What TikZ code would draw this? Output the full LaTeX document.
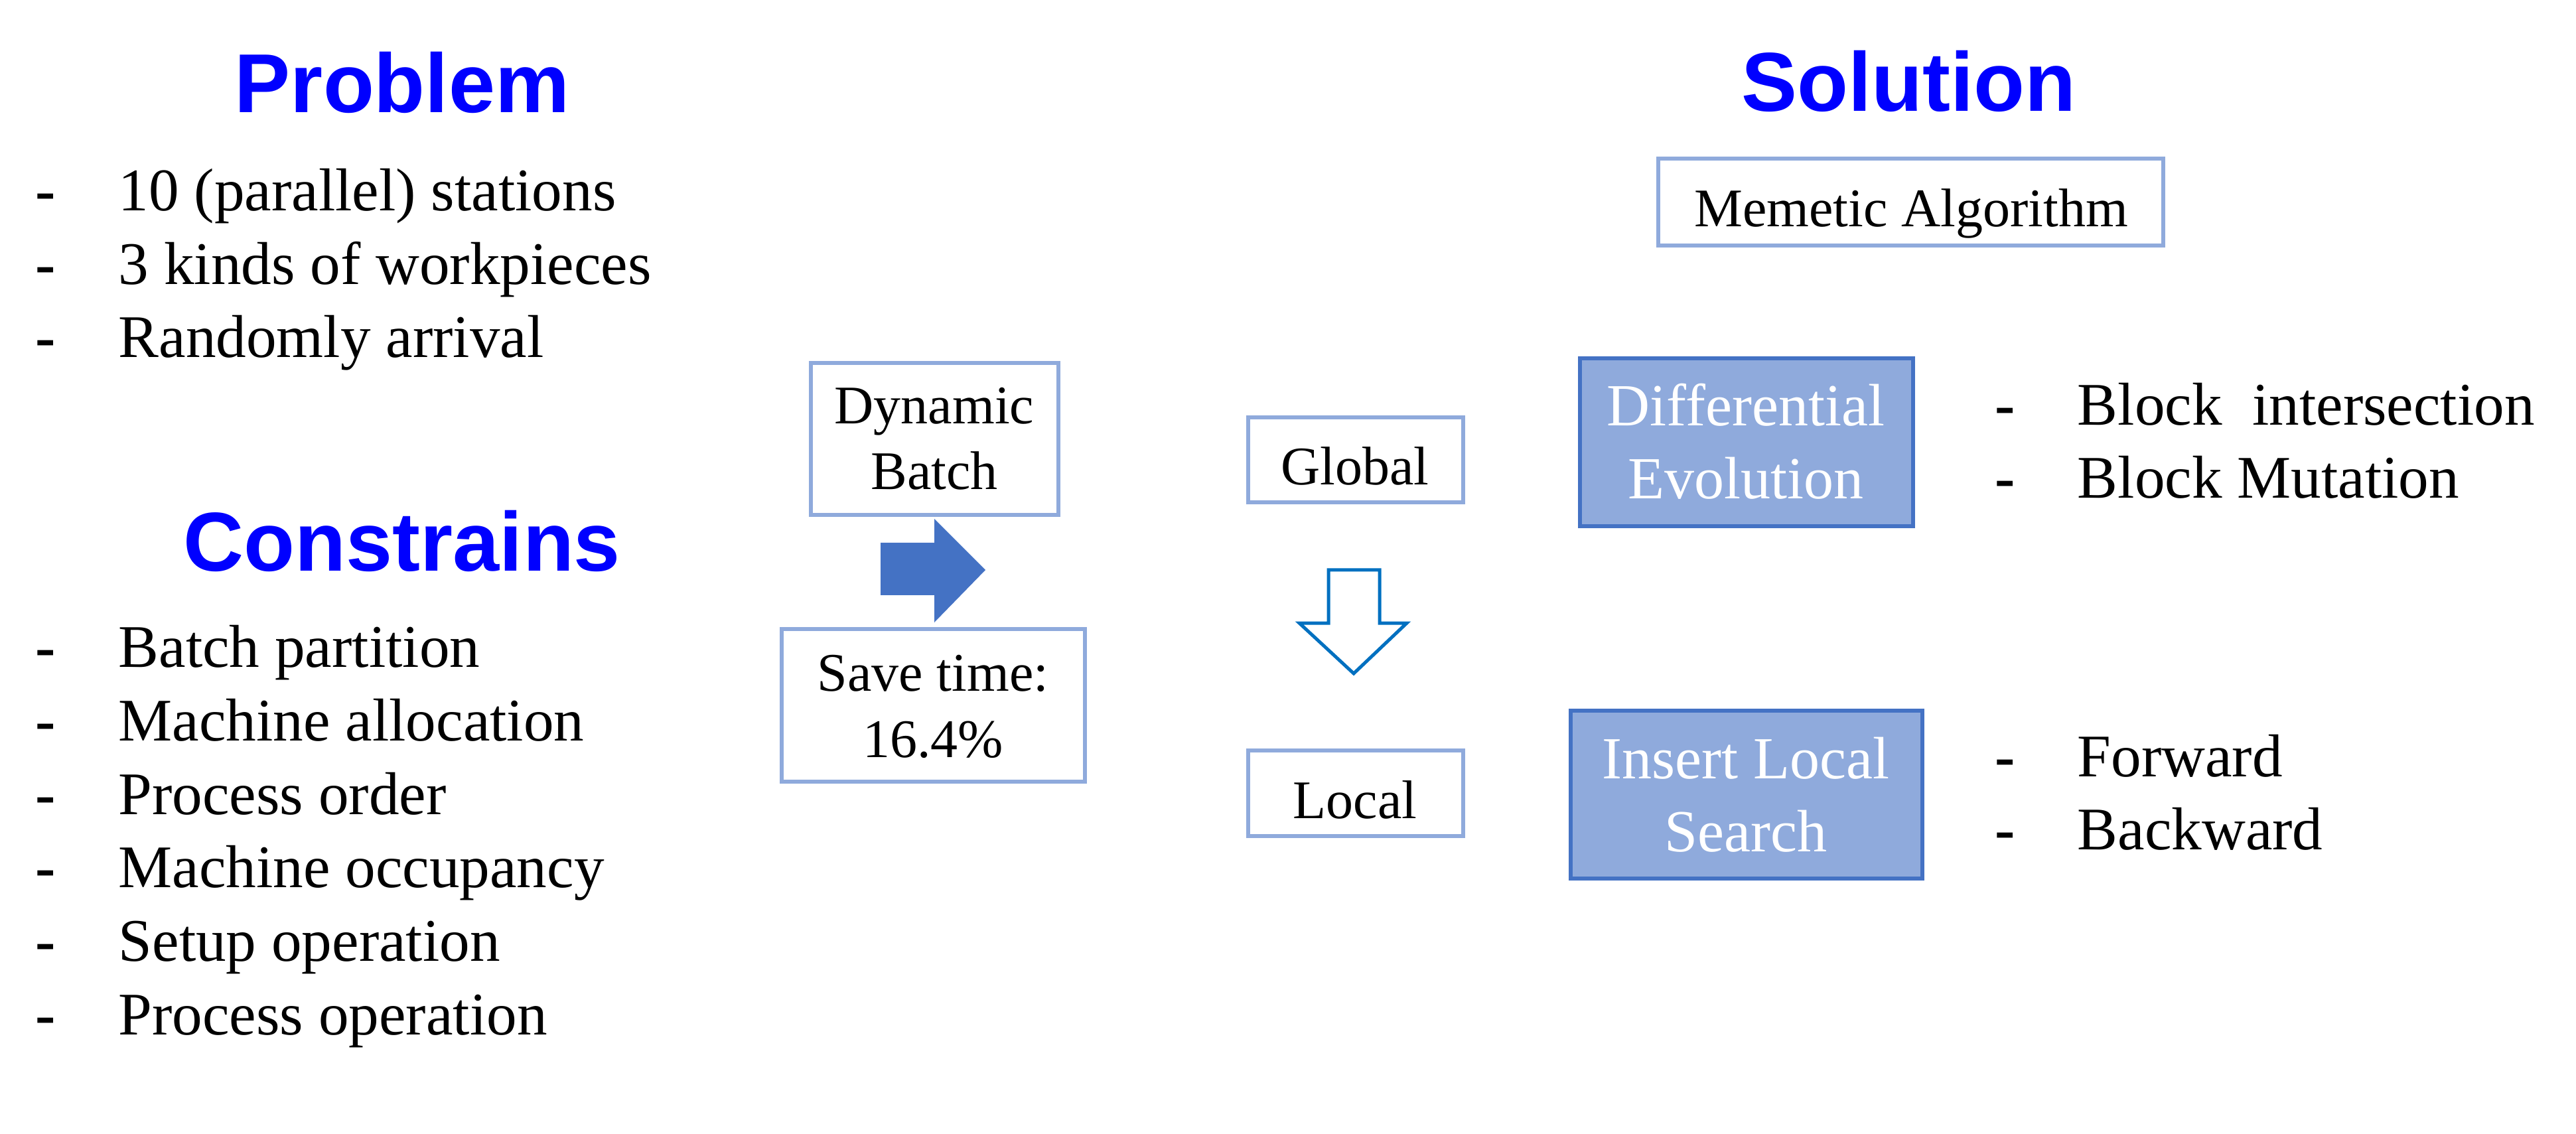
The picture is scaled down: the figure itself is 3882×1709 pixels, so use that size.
\documentclass[tikz,border=0pt]{standalone}
\usepackage{fontspec}
\setmainfont{Liberation Serif}
\newfontfamily\headfont{Liberation Sans}
\definecolor{headblue}{RGB}{0,0,255}
\definecolor{lightframe}{RGB}{143,170,220}
\definecolor{darkframe}{RGB}{68,114,196}
\definecolor{defill}{RGB}{143,170,220}
\definecolor{hollowblue}{RGB}{0,112,192}
\tikzset{
  heading/.style={inner sep=0pt, anchor=base, text=headblue, font=\headfont\bfseries\fontsize{31.5}{36}\selectfont},
  item/.style={inner sep=0pt, anchor=base west, font=\fontsize{22.8}{27}\selectfont},
  dashmark/.style={inner sep=0pt, anchor=base west, font=\bfseries\fontsize{22.8}{27}\selectfont},
  boxtxt/.style={inner sep=0pt, anchor=base, font=\fontsize{20.5}{24}\selectfont},
  bigtxt/.style={inner sep=0pt, anchor=base, text=white, font=\fontsize{22.5}{27}\selectfont},
  lightbox/.style={draw=lightframe, line width=1.5pt, fill=white, inner sep=0pt, rectangle},
  darkbox/.style={draw=darkframe, line width=1.5pt, fill=defill, inner sep=0pt, rectangle},
}
\begin{document}
\begin{tikzpicture}[x=0.25pt,y=-0.25pt]
\useasboundingbox (0,0) rectangle (3882,1709);
% headings
\node[heading] (hprob) at (606,170) {Problem};
\node[heading] (hcons) at (606,860) {Constrains};
\node[heading] (hsol) at (2876,168) {Solution};
% problem list
\foreach \y/\t [count=\i] in {318/10 (parallel) stations, 428.5/3 kinds of workpieces, 539/Randomly arrival}{
  \node[dashmark] (pd\i) at (53,\y) {-};
  \node[item] (pt\i) at (178,\y) {\t};
}
% constraints list
\foreach \y/\t [count=\i] in {1005/Batch partition, 1116/Machine allocation, 1227/Process order, 1337/Machine occupancy, 1448/Setup operation, 1559/Process operation}{
  \node[dashmark] (cd\i) at (53,\y) {-};
  \node[item] (ct\i) at (178,\y) {\t};
}
% boxes
\node[lightbox, minimum width=190.25pt, minimum height=32.75pt] (mem) at (2879.5,304.5) {};
\node[boxtxt] (memt) at (2880,342) {Memetic Algorithm};
\node[lightbox, minimum width=93.25pt, minimum height=57.25pt] (dyn) at (1408.5,661.5) {};
\node[boxtxt] (dynt1) at (1408,639) {Dynamic};
\node[boxtxt] (dynt2) at (1408,738) {Batch};
\node[lightbox, minimum width=114.25pt, minimum height=57.5pt] (save) at (1406.5,1063) {};
\node[boxtxt] (savet1) at (1406,1041) {Save time:};
\node[boxtxt] (savet2) at (1406,1141) {16.4\%};
\node[lightbox, minimum width=81pt, minimum height=32pt] (glob) at (2043,693) {};
\node[boxtxt] (globt) at (2042,731) {Global};
\node[lightbox, minimum width=81pt, minimum height=32.25pt] (loc) at (2043,1195.5) {};
\node[boxtxt] (loct) at (2042,1233) {Local};
\node[darkbox, minimum width=125.5pt, minimum height=63.25pt] (de) at (2632,666.5) {};
\node[bigtxt] (det1) at (2631,642) {Differential};
\node[bigtxt] (det2) at (2631,752) {Evolution};
\node[darkbox, minimum width=132.5pt, minimum height=63.25pt] (ils) at (2632,1197.5) {};
\node[bigtxt] (ilst1) at (2631,1173) {Insert Local};
\node[bigtxt] (ilst2) at (2631,1283) {Search};
% right lists
\foreach \y/\t [count=\i] in {641/Block\ \ intersection, 751/Block Mutation, 1170/Forward, 1280/Backward}{
  \node[dashmark] (rd\i) at (3006,\y) {-};
  \node[item] (rt\i) at (3130,\y) {\t};
}
% solid block arrow
\fill[darkframe] (1327,818) -- (1408,818) -- (1408,782) -- (1485,859) -- (1408,938) -- (1408,897) -- (1327,897) -- cycle;
% hollow down arrow
\draw[hollowblue, line width=1.25pt, line join=miter, fill=white] (2002,859) -- (2079,859) -- (2079,939) -- (2120,939) -- (2040,1015) -- (1958,939) -- (2002,939) -- cycle;
\end{tikzpicture}
\end{document}
